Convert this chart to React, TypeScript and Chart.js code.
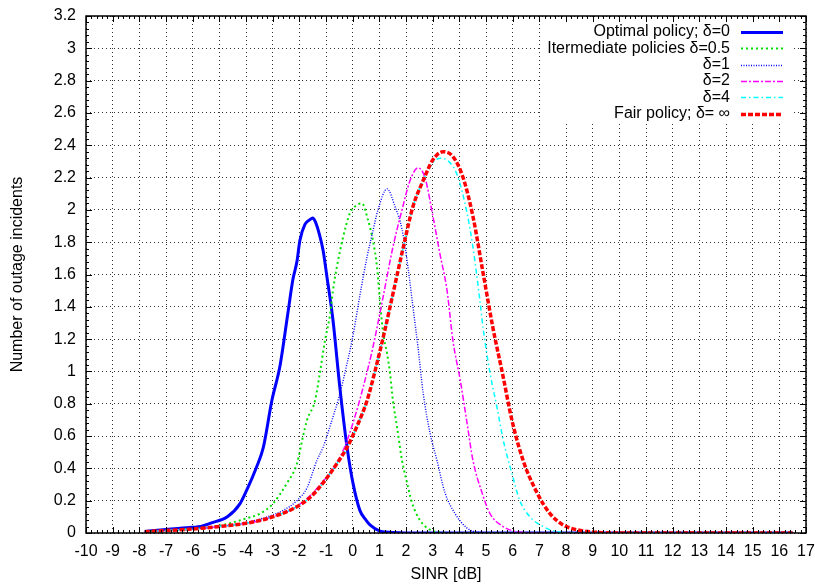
import { useEffect, useRef } from "react";
import { Chart, registerables } from "chart.js";
Chart.register(...registerables);

const FONT = "'Liberation Sans', Arial, Helvetica, 'DejaVu Sans', sans-serif";
const FS = 16;

// ---- Data ----
const xTickValues = [-10, -9, -8, -7, -6, -5, -4, -3, -2, -1, 0, 1, 2, 3, 4, 5, 6, 7, 8, 9, 10, 11, 12, 13, 14, 15, 16, 17];
const yTickValues = [0, 0.2, 0.4, 0.6, 0.8, 1, 1.2, 1.4, 1.6, 1.8, 2, 2.2, 2.4, 2.6, 2.8, 3, 3.2];
const yTickLabels = ["0", "0.2", "0.4", "0.6", "0.8", "1", "1.2", "1.4", "1.6", "1.8", "2", "2.2", "2.4", "2.6", "2.8", "3", "3.2"];

const legendLabels = [
  "Optimal policy; δ=0",
  "Itermediate policies δ=0.5",
  "δ=1",
  "δ=2",
  "δ=4",
  "Fair policy; δ= ∞",
];

const optX = [-7.8, -7, -6, -5.7, -5.35, -4.7, -4.23, -3.96, -3.6, -3.35, -3.03, -2.73, -2.43, -2.24, -2.09, -1.98, -1.79, -1.6, -1.5, -1.41, -1.25, -1.11, -0.96, -0.74, -0.48, -0.21, 0.01, 0.27, 0.5, 0.65, 1.02, 1.5, 2, 16.5];
const optY = [0.01, 0.022, 0.035, 0.04, 0.06, 0.1, 0.18, 0.27, 0.41, 0.53, 0.82, 1.03, 1.36, 1.57, 1.68, 1.81, 1.91, 1.94, 1.95, 1.93, 1.85, 1.75, 1.58, 1.32, 0.9, 0.53, 0.31, 0.14, 0.08, 0.05, 0.012, 0.003, 0, 0];

const d05X = [-7.8, -7, -6, -5, -4.5, -4, -3.47, -3, -2.46, -2.09, -1.86, -1.71, -1.41, -1.23, -1.04, -0.85, -0.74, -0.59, -0.36, -0.1, 0.16, 0.35, 0.57, 0.76, 0.91, 1.02, 1.14, 1.29, 1.4, 1.51, 1.66, 1.85, 2.04, 2.22, 2.52, 2.9, 3.3, 4, 16.5];
const d05Y = [0.01, 0.015, 0.025, 0.045, 0.065, 0.09, 0.12, 0.18, 0.31, 0.43, 0.6, 0.7, 0.82, 0.99, 1.19, 1.35, 1.5, 1.65, 1.83, 1.98, 2.03, 2.04, 1.94, 1.81, 1.65, 1.44, 1.24, 1.11, 0.99, 0.82, 0.66, 0.45, 0.31, 0.19, 0.08, 0.02, 0.003, 0, 0];

const d1X = [-7.8, -6, -5, -4, -3.2, -2.61, -2.09, -1.71, -1.34, -1.11, -0.85, -0.5, -0.21, 0.01, 0.27, 0.54, 0.76, 0.95, 1.29, 1.59, 1.85, 2.07, 2.26, 2.45, 2.64, 2.9, 3.16, 3.46, 3.84, 4.29, 4.7, 5.5, 16.5];
const d1Y = [0.008, 0.025, 0.04, 0.065, 0.1, 0.14, 0.2, 0.28, 0.45, 0.53, 0.66, 0.85, 1.05, 1.22, 1.47, 1.71, 1.87, 2.0, 2.13, 2.02, 1.88, 1.65, 1.4, 1.15, 0.87, 0.62, 0.45, 0.25, 0.12, 0.03, 0.005, 0, 0];

const d2X = [-7.8, -7, -6, -5, -4, -3.2, -2.24, -1.6, -1.11, -0.85, -0.36, 0.01, 0.39, 0.76, 1.14, 1.51, 1.85, 2.15, 2.45, 2.71, 3.01, 3.27, 3.54, 3.76, 4.03, 4.29, 4.51, 4.85, 5.15, 5.64, 6.1, 7, 16.5];
const d2Y = [0.008, 0.015, 0.025, 0.04, 0.06, 0.09, 0.15, 0.23, 0.32, 0.37, 0.51, 0.68, 0.9, 1.15, 1.46, 1.77, 2.0, 2.18, 2.26, 2.2, 1.96, 1.73, 1.5, 1.19, 0.95, 0.68, 0.45, 0.25, 0.12, 0.04, 0.01, 0, 0];

const d4X = [-7.8, -7, -6, -5, -4, -3.2, -2.24, -1.6, -1.11, -0.59, -0.21, 0.16, 0.54, 0.85, 1.2, 1.55, 1.9, 2.26, 2.64, 3.0, 3.3, 3.6, 3.91, 4.29, 4.51, 4.77, 4.89, 5.15, 5.41, 5.64, 5.97, 6.27, 6.65, 7.14, 7.6, 8.5, 16.5];
const d4Y = [0.008, 0.015, 0.025, 0.04, 0.06, 0.09, 0.15, 0.22, 0.31, 0.43, 0.53, 0.66, 0.82, 1.01, 1.25, 1.51, 1.77, 2.02, 2.18, 2.29, 2.32, 2.3, 2.22, 1.98, 1.77, 1.44, 1.27, 0.99, 0.78, 0.58, 0.37, 0.2, 0.1, 0.04, 0.01, 0, 0];

const fairX = [-7.8, -7, -6, -5, -4, -3.2, -2.24, -1.6, -1.11, -0.59, -0.21, 0.16, 0.54, 0.85, 1.2, 1.55, 1.9, 2.26, 2.64, 3.01, 3.39, 3.76, 4.14, 4.51, 4.89, 5.26, 5.64, 5.97, 6.39, 6.91, 7.4, 7.89, 8.41, 9, 10, 16.5];
const fairY = [0.008, 0.015, 0.025, 0.04, 0.06, 0.09, 0.15, 0.22, 0.31, 0.43, 0.53, 0.66, 0.82, 1.01, 1.25, 1.51, 1.77, 2.02, 2.18, 2.31, 2.36, 2.33, 2.2, 1.96, 1.61, 1.27, 0.97, 0.7, 0.45, 0.25, 0.12, 0.05, 0.02, 0.006, 0, 0];

const pts = (xs: number[], ys: number[]) => xs.map((x, i) => ({ x, y: ys[i] }));

const xMinorStep = 0.2;
const yMinorStep = 0.04;

export default function App() {
  const ref = useRef<HTMLCanvasElement>(null);

  useEffect(() => {
    const canvas = ref.current!;
    Chart.defaults.color = "#000";

    const datasets: any[] = [
      { label: legendLabels[0], data: pts(optX, optY), borderColor: "#0000ff", borderWidth: 3, borderDash: [], order: 6 },
      { label: legendLabels[1], data: pts(d05X, d05Y), borderColor: "#00e000", borderWidth: 2, borderDash: [2, 3], order: 5 },
      { label: legendLabels[2], data: pts(d1X, d1Y), borderColor: "#0000ff", borderWidth: 1.4, borderDash: [1, 1.5], order: 4 },
      { label: legendLabels[3], data: pts(d2X, d2Y), borderColor: "#ff00ff", borderWidth: 1.5, borderDash: [6, 2, 2, 2], order: 3 },
      { label: legendLabels[4], data: pts(d4X, d4Y), borderColor: "#00ffff", borderWidth: 1.5, borderDash: [5, 3, 1.5, 3], order: 2 },
      { label: legendLabels[5], data: pts(fairX, fairY), borderColor: "#ff0000", borderWidth: 3.5, borderDash: [5, 2], order: 1 },
    ].map((d) => ({
      ...d,
      pointRadius: 0,
      fill: false,
      cubicInterpolationMode: "monotone",
    }));

    const framePlugin = {
      id: "frameLegend",
      afterDraw(chart: any) {
        const { ctx, chartArea: a, scales } = chart;
        const xs = scales.x;
        const ys = scales.y;
        ctx.save();
        // legend box
        ctx.font = `${FS}px ${FONT}`;
        const textRight = a.right - 76;
        const maxW = Math.max(...legendLabels.map((t) => ctx.measureText(t).width));
        const boxL = textRight - maxW - 6;
        ctx.fillStyle = "#fff";
        ctx.fillRect(boxL, a.top + 4, a.right - 13 - boxL, 101);
        ctx.textAlign = "right";
        ctx.textBaseline = "middle";
        legendLabels.forEach((t, i) => {
          const yy = a.top + 16 + i * 16.3;
          ctx.fillStyle = "#000";
          ctx.fillText(t, textRight, yy);
          const ds = chart.data.datasets[i];
          ctx.save();
          ctx.strokeStyle = ds.borderColor;
          ctx.lineWidth = ds.borderWidth;
          ctx.setLineDash(ds.borderDash || []);
          ctx.beginPath();
          ctx.moveTo(a.right - 65, Math.round(yy) + 0.5);
          ctx.lineTo(a.right - 23, Math.round(yy) + 0.5);
          ctx.stroke();
          ctx.restore();
        });
        // ticks
        ctx.strokeStyle = "#000";
        ctx.lineWidth = 1;
        ctx.setLineDash([]);
        ctx.beginPath();
        const nx = Math.round((xs.max - xs.min) / xMinorStep);
        for (let i = 0; i <= nx; i++) {
          const v = xs.min + i * xMinorStep;
          const len = i % 5 === 0 ? 6 : 3;
          const px = Math.round(xs.getPixelForValue(v)) + 0.5;
          ctx.moveTo(px, a.bottom);
          ctx.lineTo(px, a.bottom - len);
          ctx.moveTo(px, a.top);
          ctx.lineTo(px, a.top + len);
        }
        const ny = Math.round((ys.max - ys.min) / yMinorStep);
        for (let i = 0; i <= ny; i++) {
          const v = ys.min + i * yMinorStep;
          const len = i % 5 === 0 ? 6 : 3;
          const py = Math.round(ys.getPixelForValue(v)) + 0.5;
          ctx.moveTo(a.left, py);
          ctx.lineTo(a.left + len, py);
          ctx.moveTo(a.right, py);
          ctx.lineTo(a.right - len, py);
        }
        ctx.stroke();
        // frame
        ctx.lineWidth = 1.5;
        ctx.strokeRect(Math.round(a.left), Math.round(a.top), Math.round(a.right - a.left), Math.round(a.bottom - a.top));
        ctx.restore();
      },
    };

    const chart = new Chart(canvas, {
      type: "line",
      data: { datasets },
      plugins: [framePlugin],
      options: {
        animation: false,
        responsive: false,
        devicePixelRatio: 1,
        layout: { padding: { top: 16, right: 9, left: 0, bottom: 0 } },
        plugins: { legend: { display: false }, tooltip: { enabled: false } },
        scales: {
          x: {
            type: "linear",
            min: -10,
            max: 17,
            afterBuildTicks: (s: any) => {
              s.ticks = xTickValues.map((v) => ({ value: v }));
            },
            afterFit: (s: any) => {
              s.height = 53;
              s.paddingLeft = 0;
              s.paddingRight = 0;
            },
            ticks: {
              autoSkip: false,
              maxRotation: 0,
              padding: 9,
              font: { family: FONT, size: FS },
              color: "#000",
              callback: (v: any) => String(v),
            },
            grid: { color: "#333", lineWidth: 1, drawTicks: false },
            border: { display: false, dash: [1, 3] },
            title: {
              display: true,
              text: "SINR [dB]",
              font: { family: FONT, size: FS },
              color: "#000",
              padding: { top: 0, bottom: 1.5 },
            },
          },
          y: {
            type: "linear",
            min: 0,
            max: 3.2,
            afterBuildTicks: (s: any) => {
              s.ticks = yTickValues.map((v) => ({ value: v }));
            },
            afterFit: (s: any) => {
              s.width = 86;
              s.paddingTop = 0;
              s.paddingBottom = 0;
            },
            ticks: {
              padding: 10,
              font: { family: FONT, size: FS },
              color: "#000",
              callback: (v: any) => {
                const i = yTickValues.findIndex((t) => Math.abs(t - v) < 1e-6);
                return i >= 0 ? yTickLabels[i] : "";
              },
            },
            grid: { color: "#333", lineWidth: 1, drawTicks: false },
            border: { display: false, dash: [1, 3] },
            title: {
              display: true,
              text: "Number of outage incidents",
              font: { family: FONT, size: FS },
              color: "#000",
              padding: { top: 7.5, bottom: 0 },
            },
          },
        },
      } as any,
    });
    return () => chart.destroy();
  }, []);

  return (
    <div style={{ position: "absolute", left: 0, top: 0, width: 815, height: 586, background: "#fff" }}>
      <canvas ref={ref} width={815} height={586} style={{ width: 815, height: 586, display: "block" }} />
    </div>
  );
}
